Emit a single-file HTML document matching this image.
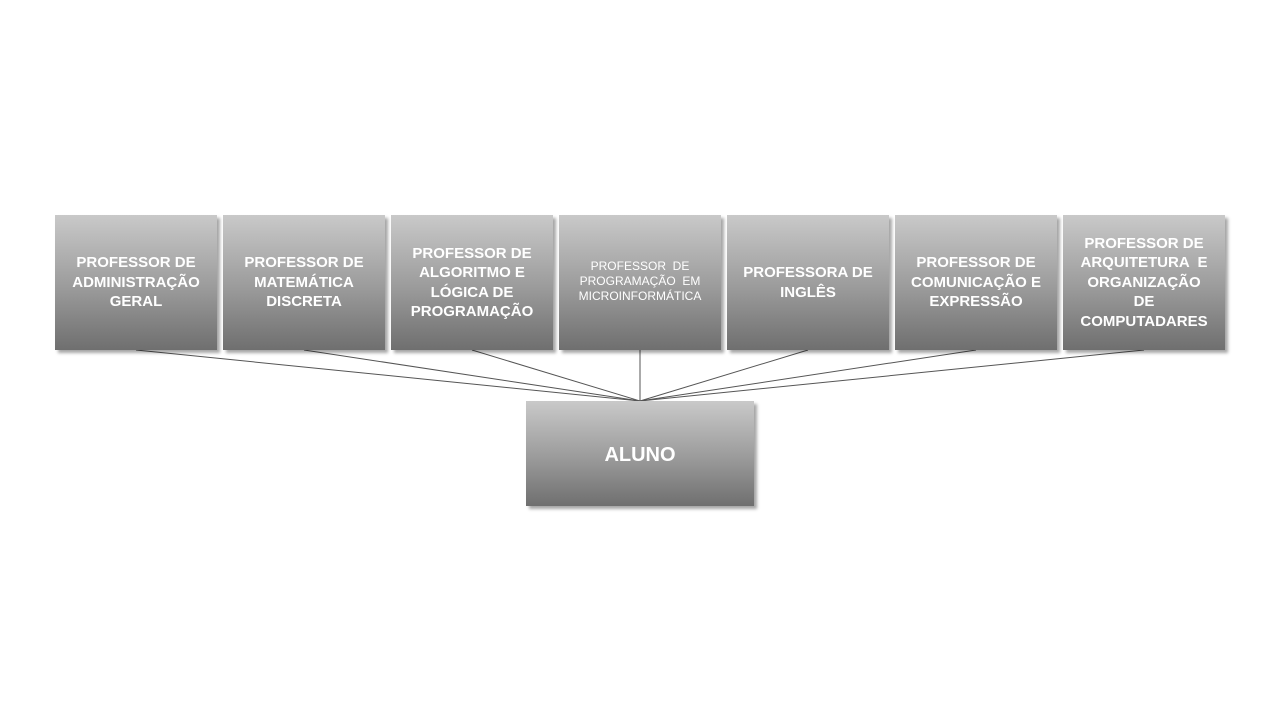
<!DOCTYPE html>
<html><head><meta charset="utf-8"><style>
body{margin:0;width:1280px;height:720px;background:#fff;position:relative;overflow:hidden;font-family:"Liberation Sans",Arial,sans-serif}
.b{position:absolute;top:215px;width:162px;height:135px;background:linear-gradient(#c9c9c9,#9a9a9a 55%,#6f6f6f);box-shadow:3px 3px 3px rgba(0,0,0,.35);color:#fff;font-weight:bold;font-size:15px;line-height:19.5px;text-align:center;display:flex;align-items:center;justify-content:center;box-sizing:border-box;padding:0 4px}
svg{position:absolute;left:0;top:0}
</style></head><body>
<svg width="1280" height="720"><g stroke="#555" stroke-width="1">
<line x1="136" y1="350" x2="640" y2="401"/><line x1="304" y1="350" x2="640" y2="401"/><line x1="472" y1="350" x2="640" y2="401"/><line x1="640" y1="350" x2="640" y2="401"/><line x1="808" y1="350" x2="640" y2="401"/><line x1="976" y1="350" x2="640" y2="401"/><line x1="1144" y1="350" x2="640" y2="401"/></g></svg>
<div class="b" style="left:55px">PROFESSOR DE<br>ADMINISTRAÇÃO<br>GERAL</div>
<div class="b" style="left:223px">PROFESSOR DE<br>MATEMÁTICA<br>DISCRETA</div>
<div class="b" style="left:391px">PROFESSOR DE<br>ALGORITMO E<br>LÓGICA DE<br>PROGRAMAÇÃO</div>
<div class="b" style="left:559px;font-weight:normal;font-size:12px;line-height:15px;padding-bottom:2px">PROFESSOR &nbsp;DE<br>PROGRAMAÇÃO &nbsp;EM<br>MICROINFORMÁTICA</div>
<div class="b" style="left:727px">PROFESSORA DE<br>INGLÊS</div>
<div class="b" style="left:895px">PROFESSOR DE<br>COMUNICAÇÃO E<br>EXPRESSÃO</div>
<div class="b" style="left:1063px">PROFESSOR DE<br>ARQUITETURA &nbsp;E<br>ORGANIZAÇÃO<br>DE<br>COMPUTADARES</div>
<div class="b" style="left:526px;top:401px;width:228px;height:105px;font-size:20px;padding-top:4px">ALUNO</div>
</body></html>
